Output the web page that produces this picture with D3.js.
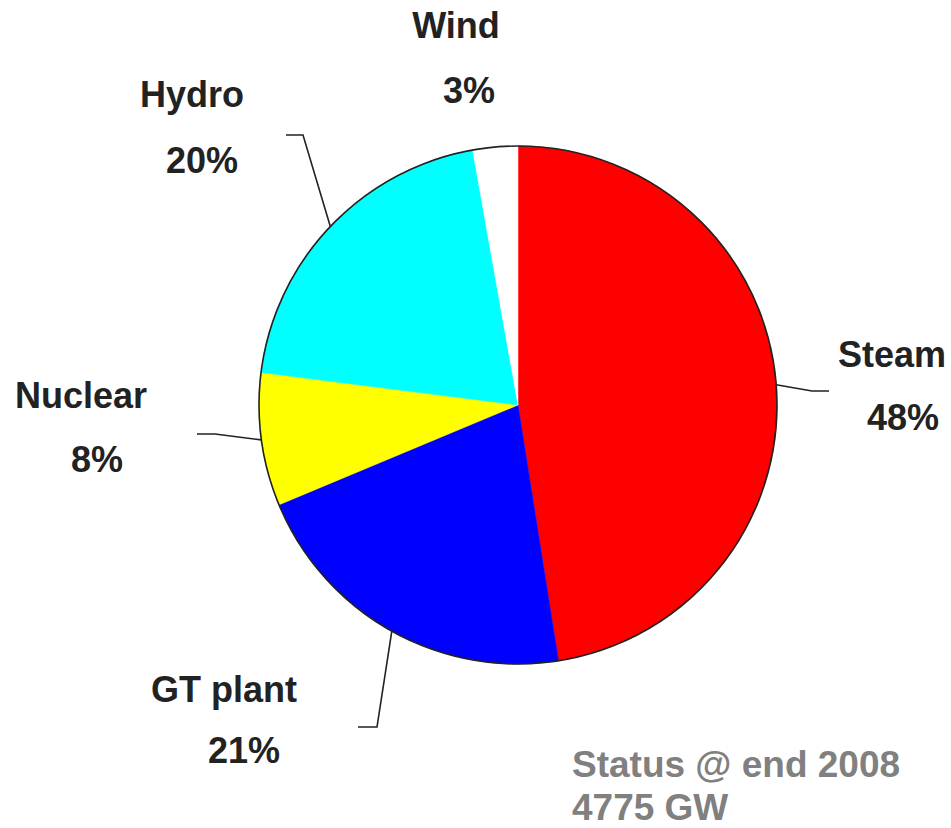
<!DOCTYPE html>
<html>
<head>
<meta charset="utf-8">
<script src="https://cdn.jsdelivr.net/npm/d3@7"></script>
<style>
  body { margin: 0; background: #fff; }
  svg text { font-family: "Liberation Sans", Arial, sans-serif; font-weight: bold; }
</style>
</head>
<body>
<svg id="chart" width="951" height="828"></svg>
<script>
// installed capacity share, clockwise from 12 o'clock
var categories = ["Steam", "GT plant", "Nuclear", "Hydro", "Wind"];
var shares = [47.5, 21.2, 8.3, 20.2, 2.8];
var colors = ["#ff0000", "#0000ff", "#ffff00", "#00ffff", "#ffffff"];
var noteLines = ["Status @ end 2008", "4775 GW"];

// where each label sits (relative to the pie centre), and the leader elbow
var labelLayout = {
    "Steam":    { name: [374, -38], pct: [385, 25], elbow: [294, -14], end: [311, -14] },
    "GT plant": { name: [-294, 297], pct: [-274, 358], elbow: [-141, 322], end: [-160, 322] },
    "Nuclear":  { name: [-437, 3], pct: [-421, 67], elbow: [-303, 29], end: [-321, 29] },
    "Hydro":    { name: [-326, -298], pct: [-316, -232], elbow: [-215, -270], end: [-232, -270] },
    "Wind":     { name: [-62, -367], pct: [-49, -302] }
};

var svg = d3.select("#chart");
var cx = 518, cy = 405, radius = 259;

var g = svg.append("g").attr("transform", "translate(" + cx + "," + cy + ")");

var pie = d3.pie().sort(null).value(function(d) { return d.value; });
var arc = d3.arc().innerRadius(0).outerRadius(radius);
var edge = d3.arc().innerRadius(radius).outerRadius(radius);

var data = categories.map(function(c, i) {
    return { name: c, value: shares[i], color: colors[i] };
});
var arcs = pie(data);

g.selectAll("path.slice")
    .data(arcs)
    .enter().append("path")
        .attr("class", "slice")
        .attr("d", arc)
        .attr("fill", function(d) { return d.data.color; })
        .attr("stroke", function(d) { return d.data.color; })
        .attr("stroke-width", 0.5);

// outline only around the rim
g.append("circle")
    .attr("r", radius)
    .attr("fill", "none")
    .attr("stroke", "#222")
    .attr("stroke-width", 1.6);

// leader lines
g.selectAll("polyline.leader")
    .data(arcs.filter(function(d) { return labelLayout[d.data.name].elbow; }))
    .enter().append("polyline")
        .attr("class", "leader")
        .attr("fill", "none")
        .attr("stroke", "#222")
        .attr("stroke-width", 1.6)
        .attr("points", function(d) {
            var l = labelLayout[d.data.name];
            return [edge.centroid(d), l.elbow, l.end].map(function(p) { return p.join(","); }).join(" ");
        });

var labels = g.selectAll("g.label")
    .data(arcs)
    .enter().append("g")
        .attr("class", "label");

labels.append("text")
    .attr("x", function(d) { return labelLayout[d.data.name].name[0]; })
    .attr("y", function(d) { return labelLayout[d.data.name].name[1]; })
    .attr("text-anchor", "middle")
    .attr("font-size", 36)
    .attr("fill", "#222")
    .text(function(d) { return d.data.name; });

labels.append("text")
    .attr("x", function(d) { return labelLayout[d.data.name].pct[0]; })
    .attr("y", function(d) { return labelLayout[d.data.name].pct[1]; })
    .attr("text-anchor", "middle")
    .attr("font-size", 36)
    .attr("fill", "#222")
    .text(function(d) { return Math.round(d.data.value) + "%"; });

svg.append("text")
    .attr("x", 572)
    .attr("y", 777)
    .attr("font-size", 37)
    .attr("fill", "#808080")
    .selectAll("tspan")
    .data(noteLines)
    .enter().append("tspan")
        .attr("x", 572)
        .attr("dy", function(d, i) { return i ? 43 : 0; })
        .text(function(d) { return d; });
</script>
</body>
</html>
